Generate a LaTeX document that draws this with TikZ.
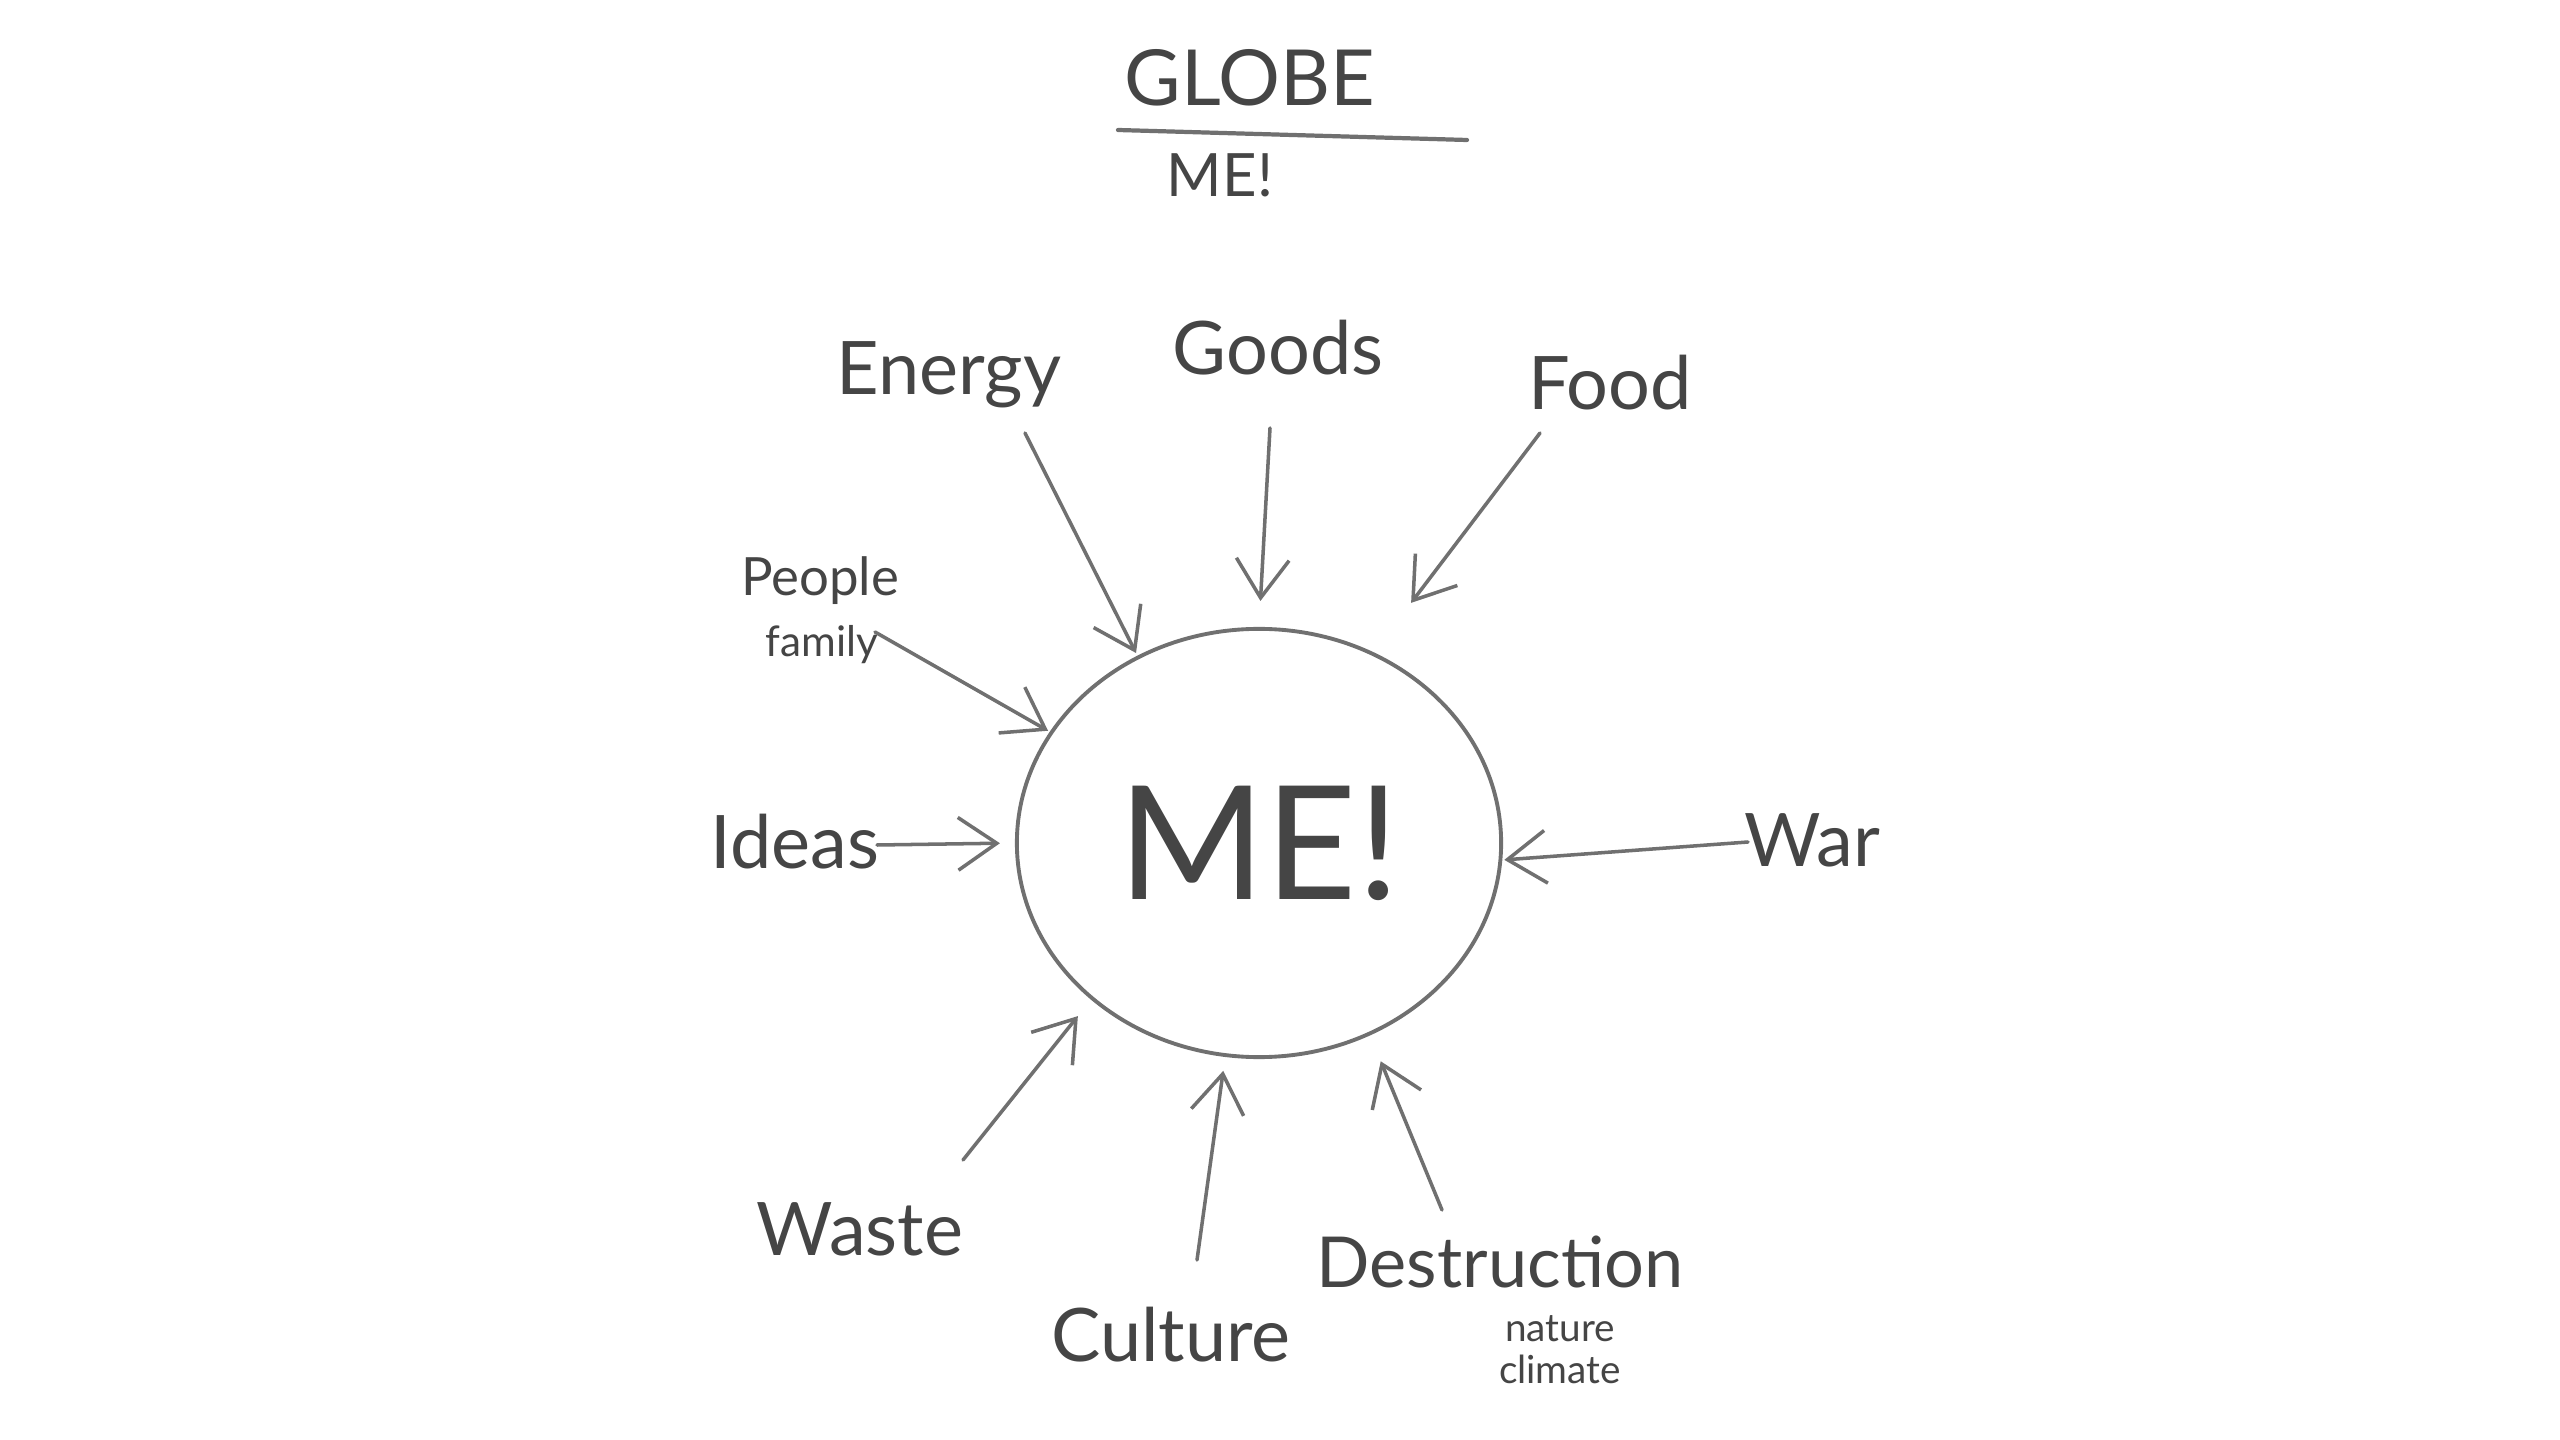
\documentclass[tikz,border=0pt]{standalone}
\usepackage{fontspec}
\setmainfont{Lato}
\usetikzlibrary{arrows.meta,shapes.geometric}
\definecolor{pencil}{HTML}{454545}
\definecolor{lead}{HTML}{707070}
\begin{document}
\begin{tikzpicture}[x=0.01cm,y=-0.01cm,
  lbl/.style={text=pencil,inner sep=0pt,font=\fontsize{21}{24}\selectfont},
  sublbl/.style={text=pencil,inner sep=0pt,align=center,font=\fontsize{11}{12}\selectfont},
  arr/.style={draw=lead,line width=1pt,line cap=round,-{Straight Barb[length=11pt,width=15pt,line width=1pt]}},
  globe/.style={draw=lead,line width=1.1pt,ellipse,inner sep=0pt,minimum width=4.84cm,minimum height=4.28cm,text=pencil,font=\fontsize{45}{50}\selectfont},
]
\fill[white] (0,0) rectangle (2560,1440);
\useasboundingbox (0,0) rectangle (2560,1440);

% title fraction
\node[lbl,font=\fontsize{22}{24}\selectfont] (title) at (1250,78) {GLOBE};
\draw[lead,line width=1.2pt,line cap=round] (1118,130) -- (1467,140);
\node[lbl,font=\fontsize{17}{20}\selectfont] (titleme) at (1220,175) {ME!};

% centre
\node[globe] (me) at (1259,843) {ME!};

% labels
\node[lbl] (energy) at (949,375) {Energy};
\node[lbl] (goods) at (1278,348) {Goods};
\node[lbl] (food) at (1610,383) {Food};
\node[lbl,font=\fontsize{15}{18}\selectfont] (people) at (820,581) {People};
\node[lbl,font=\fontsize{12}{14}\selectfont] (family) at (822,645) {family};
\node[lbl] (ideas) at (795,842) {Ideas};
\node[lbl] (war) at (1812,840) {War};
\node[lbl] (waste) at (860,1229) {Waste};
\node[lbl] (culture) at (1171,1335) {Culture};
\node[lbl,font=\fontsize{20}{24}\selectfont] (destruction) at (1500,1262) {Destruction};
\node[sublbl] (nature) at (1560,1350) {nature\\climate};

% arrow start points
\coordinate (energy-s) at (1025,433);
\coordinate (goods-s) at (1270,428);
\coordinate (food-s) at (1540,433);
\coordinate (people-s) at (875,632);
\coordinate (ideas-s) at (877,845);
\coordinate (war-s) at (1748,842);
\coordinate (waste-s) at (963,1160);
\coordinate (culture-s) at (1197,1260);
\coordinate (destruction-s) at (1442,1210);

% arrows
\draw[arr,shorten >=0.03cm] (energy-s) -- (me.123);
\draw[arr,shorten >=0.26cm] (goods-s) -- (me.90);
\draw[arr,shorten >=0.62cm] (food-s) -- (me.59);
\draw[arr,shorten >=0.02cm] (people-s) -- (me.152);
\draw[arr,shorten >=0.15cm] (ideas-s) -- (me.180);
\draw[arr,shorten >=0.02cm] (war-s) -- (me.-4);
\draw[arr,shorten >=0.21cm] (waste-s) -- (me.223);
\draw[arr,shorten >=0.14cm] (culture-s) -- (me.261);
\draw[arr,shorten >=0.28cm] (destruction-s) -- (me.300);
\end{tikzpicture}
\end{document}
